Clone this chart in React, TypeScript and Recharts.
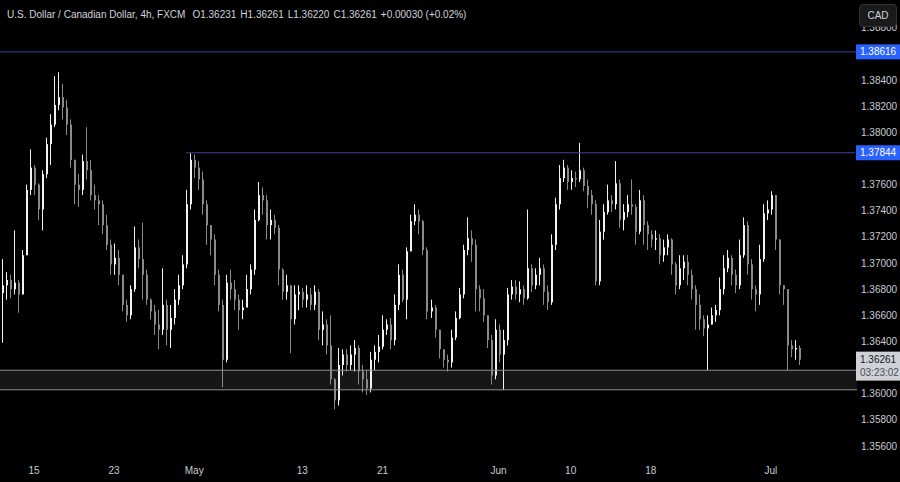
import { ComposedChart, Bar, XAxis, YAxis, ReferenceLine, ReferenceArea } from "recharts";

const CLOSES = [
  1.3683, 1.3687, 1.3680, 1.3685, 1.3676, 1.3706, 1.3756, 1.3773, 1.3760, 1.3741,
  1.3768, 1.3791, 1.3806, 1.3821, 1.3827, 1.3819, 1.3806, 1.3779, 1.3760, 1.3756,
  1.3778, 1.3771, 1.3752, 1.3748, 1.3745, 1.3729, 1.3714, 1.3699, 1.3704, 1.3691,
  1.3668, 1.3660, 1.3680, 1.3712, 1.3703, 1.3691, 1.3672, 1.3663, 1.3653, 1.3649,
  1.3668, 1.3649, 1.3658, 1.3672, 1.3683, 1.3699, 1.3745, 1.3779, 1.3773, 1.3764,
  1.3745, 1.3729, 1.3718, 1.3691, 1.3668, 1.3626, 1.3685, 1.3680, 1.3672, 1.3664,
  1.3666, 1.3680, 1.3695, 1.3733, 1.3752, 1.3748, 1.3729, 1.3733, 1.3727, 1.3695,
  1.3678, 1.3683, 1.3657, 1.3676, 1.3678, 1.3672, 1.3676, 1.3668, 1.3678, 1.3649,
  1.3653, 1.3637, 1.3611, 1.3595, 1.3622, 1.3630, 1.3622, 1.3630, 1.3635, 1.3617,
  1.3611, 1.3604, 1.3626, 1.3632, 1.3636, 1.3649, 1.3653, 1.3641, 1.3668, 1.3691,
  1.3672, 1.3709, 1.3732, 1.3737, 1.3732, 1.3710, 1.3663, 1.3666, 1.3649, 1.3634,
  1.3626, 1.3624, 1.3643, 1.3658, 1.3676, 1.3710, 1.3719, 1.3714, 1.3680, 1.3673,
  1.3660, 1.3641, 1.3614, 1.3649, 1.3630, 1.3641, 1.3676, 1.3682, 1.3676, 1.3680,
  1.3673, 1.3696, 1.3683, 1.3691, 1.3696, 1.3678, 1.3670, 1.3714, 1.3745, 1.3765,
  1.3773, 1.3762, 1.3765, 1.3764, 1.3771, 1.3759, 1.3752, 1.3745, 1.3686, 1.3724,
  1.3739, 1.3748, 1.3745, 1.3761, 1.3733, 1.3739, 1.3745, 1.3743, 1.3724, 1.3748,
  1.3729, 1.3722, 1.3718, 1.3719, 1.3706, 1.3712, 1.3718, 1.3699, 1.3683, 1.3696,
  1.3701, 1.3691, 1.3680, 1.3668, 1.3657, 1.3650, 1.3653, 1.3660, 1.3664, 1.3680,
  1.3696, 1.3704, 1.3691, 1.3683, 1.3706, 1.3729, 1.3699, 1.3680, 1.3676, 1.3703,
  1.3738, 1.3741, 1.3752, 1.3718, 1.3683, 1.3680, 1.3637, 1.3634, 1.3635, 1.36261,
];

const HIGHS = [
  1.3703, 1.3693, 1.3691, 1.3725, 1.3687, 1.3710, 1.3760, 1.3787, 1.3775, 1.3761,
  1.3771, 1.3796, 1.3814, 1.3843, 1.3846, 1.3837, 1.3825, 1.3810, 1.3779, 1.3768,
  1.3783, 1.3804, 1.3779, 1.3760, 1.3752, 1.3748, 1.3737, 1.3718, 1.3715, 1.3710,
  1.3691, 1.3672, 1.3683, 1.3728, 1.3718, 1.3731, 1.3695, 1.3673, 1.3668, 1.3664,
  1.3696, 1.3672, 1.3668, 1.3680, 1.3691, 1.3706, 1.3756, 1.3784, 1.3783, 1.3778,
  1.3770, 1.3748, 1.3729, 1.3722, 1.3695, 1.3672, 1.3691, 1.3695, 1.3687, 1.3676,
  1.3672, 1.3691, 1.3699, 1.3741, 1.3762, 1.3758, 1.3752, 1.3741, 1.3737, 1.3729,
  1.3696, 1.3691, 1.3683, 1.3683, 1.3683, 1.3681, 1.3683, 1.3681, 1.3683, 1.3680,
  1.3663, 1.3657, 1.3660, 1.3612, 1.3635, 1.3634, 1.3634, 1.3637, 1.3641, 1.3637,
  1.3622, 1.3618, 1.3632, 1.3637, 1.3645, 1.3660, 1.3657, 1.3658, 1.3676, 1.3699,
  1.3695, 1.3712, 1.3737, 1.3745, 1.3741, 1.3733, 1.3712, 1.3672, 1.3668, 1.3649,
  1.3634, 1.3630, 1.3649, 1.3663, 1.3681, 1.3714, 1.3735, 1.3725, 1.3718, 1.3683,
  1.3680, 1.3660, 1.3645, 1.3657, 1.3653, 1.3649, 1.3681, 1.3687, 1.3687, 1.3686,
  1.3683, 1.3741, 1.3699, 1.3696, 1.3704, 1.3699, 1.3683, 1.3722, 1.3750, 1.3775,
  1.3779, 1.3775, 1.3771, 1.3770, 1.3792, 1.3773, 1.3764, 1.3756, 1.3748, 1.3733,
  1.3745, 1.3760, 1.3752, 1.3778, 1.3764, 1.3745, 1.3752, 1.3764, 1.3745, 1.3756,
  1.3752, 1.3732, 1.3725, 1.3725, 1.3722, 1.3718, 1.3722, 1.3719, 1.3701, 1.3706,
  1.3706, 1.3706, 1.3695, 1.3683, 1.3676, 1.3660, 1.3660, 1.3666, 1.3668, 1.3689,
  1.3706, 1.3710, 1.3706, 1.3695, 1.3718, 1.3735, 1.3732, 1.3703, 1.3683, 1.3714,
  1.3745, 1.3748, 1.3755, 1.3752, 1.3718, 1.3683, 1.3680, 1.3641, 1.3641, 1.3637,
];

const LOWS = [
  1.3639, 1.3672, 1.3673, 1.3676, 1.3662, 1.3676, 1.3706, 1.3752, 1.3752, 1.3733,
  1.3725, 1.3765, 1.3775, 1.3804, 1.3817, 1.3810, 1.3798, 1.3773, 1.3745, 1.3743,
  1.3752, 1.3764, 1.3748, 1.3741, 1.3729, 1.3722, 1.3710, 1.3691, 1.3691, 1.3683,
  1.3663, 1.3655, 1.3657, 1.3678, 1.3696, 1.3672, 1.3668, 1.3657, 1.3645, 1.3634,
  1.3645, 1.3637, 1.3635, 1.3653, 1.3668, 1.3680, 1.3696, 1.3741, 1.3765, 1.3756,
  1.3737, 1.3714, 1.3706, 1.3683, 1.3663, 1.3605, 1.3624, 1.3672, 1.3664, 1.3649,
  1.3657, 1.3672, 1.3676, 1.3691, 1.3732, 1.3737, 1.3718, 1.3718, 1.3722, 1.3683,
  1.3672, 1.3672, 1.3631, 1.3653, 1.3664, 1.3666, 1.3666, 1.3664, 1.3664, 1.3641,
  1.3637, 1.3630, 1.3607, 1.3588, 1.3591, 1.3614, 1.3617, 1.3618, 1.3617, 1.3607,
  1.3601, 1.3599, 1.3601, 1.3618, 1.3624, 1.3634, 1.3645, 1.3634, 1.3637, 1.3664,
  1.3670, 1.3657, 1.3709, 1.3729, 1.3722, 1.3706, 1.3657, 1.3658, 1.3643, 1.3627,
  1.3620, 1.3617, 1.3620, 1.3641, 1.3657, 1.3673, 1.3706, 1.3701, 1.3663, 1.3663,
  1.3655, 1.3635, 1.3607, 1.3611, 1.3624, 1.3603, 1.3637, 1.3672, 1.3672, 1.3670,
  1.3668, 1.3672, 1.3678, 1.3680, 1.3683, 1.3668, 1.3664, 1.3668, 1.3710, 1.3741,
  1.3762, 1.3756, 1.3756, 1.3758, 1.3762, 1.3755, 1.3742, 1.3737, 1.3683, 1.3683,
  1.3718, 1.3737, 1.3739, 1.3741, 1.3727, 1.3725, 1.3735, 1.3737, 1.3714, 1.3722,
  1.3714, 1.3710, 1.3712, 1.3710, 1.3699, 1.3701, 1.3706, 1.3691, 1.3676, 1.3680,
  1.3687, 1.3683, 1.3672, 1.3649, 1.3649, 1.3644, 1.3618, 1.3653, 1.3655, 1.3660,
  1.3676, 1.3693, 1.3683, 1.3677, 1.3680, 1.3704, 1.3691, 1.3672, 1.3663, 1.3668,
  1.3701, 1.3733, 1.3737, 1.3710, 1.3676, 1.3668, 1.3618, 1.3628, 1.3626, 1.3622,
];

const FIRST_OPEN = 1.3677;
const FUTURE_SLOTS = 14; // empty space right of the last candle

const TICK_IDX = [8, 28, 48, 75, 95, 124, 142, 162, 192];
const TICK_LABELS = ["15", "23", "May", "13", "21", "Jun", "10", "18", "Jul"];

const PRICE_TICKS = [
  1.356, 1.358, 1.36, 1.362, 1.364, 1.366, 1.368, 1.37, 1.372, 1.374, 1.376,
  1.378, 1.38, 1.382, 1.384, 1.386, 1.388,
];
const PRICE_DOMAIN = [1.35493, 1.39013];

const LEVEL_TOP = 1.38616;
const LEVEL_MID = 1.37844;
const LEVEL_MID_START = 46;
const ZONE_TOP = 1.3618;
const ZONE_BOTTOM = 1.3603;
const COUNTDOWN = "03:23:02";
const HEADER_NAME = "U.S. Dollar / Canadian Dollar, 4h, FXCM";
const HEADER_OHLC = ["O1.36231", "H1.36261", "L1.36220", "C1.36261", "+0.00030 (+0.02%)"];

const COLORS = {
  bg: "#000000",
  up: "#f2f2f2",
  down: "#8a8a8a",
  level: "#3b45a0",
  tag: "#2962ff",
  zone: "#161616",
  zoneLine: "#8f8f8f",
  text: "#c9ccd3",
};

const W = 900;
const H = 482;
const AXIS_W = 43;
const FONT = "'Liberation Sans', Arial, sans-serif";

const chartData: any[] = CLOSES.map((c, i) => ({
  i,
  o: i === 0 ? FIRST_OPEN : CLOSES[i - 1], // FX: open ~ previous close
  c,
  h: HIGHS[i],
  l: LOWS[i],
  range: [LOWS[i], HIGHS[i]],
}));
for (let k = 0; k < FUTURE_SLOTS; k++) {
  chartData.push({ i: CLOSES.length + k, range: null });
}

const LAST = CLOSES[CLOSES.length - 1];
// price-axis labels sitting under a tag are covered in the original
const TAGGED = [LEVEL_TOP, LEVEL_MID, LAST];

function Candle(props: any) {
  const { x, y, width, height, payload } = props;
  if (!payload || payload.range == null) return null;
  const { o, c, h, l } = payload;
  const top = Math.min(y, y + height);
  const span = Math.abs(height);
  const pxPer = span / (h - l);
  const yOf = (p: number) => top + (h - p) * pxPer;
  const px = Math.round(x + width / 2);
  const color = c >= o ? COLORS.up : COLORS.down;
  const bTop = yOf(Math.max(o, c));
  const bBot = yOf(Math.min(o, c));
  return (
    <g>
      <line x1={px + 0.5} x2={px + 0.5} y1={top} y2={top + span} stroke={color} strokeWidth={1} />
      <rect x={px} y={bTop} width={2} height={Math.max(1, bBot - bTop)} fill={color} />
    </g>
  );
}

function PriceTick(props: any) {
  const { x, y, payload } = props;
  const v = payload.value as number;
  if (TAGGED.some((t) => Math.abs(t - v) < 0.0009)) return null;
  return (
    <text x={x} y={y + 3.5} fill={COLORS.text} fontSize={10} fontFamily={FONT}>
      {v.toFixed(5)}
    </text>
  );
}

function PriceTag(props: any) {
  const { viewBox, text } = props;
  if (!viewBox) return null;
  const y = viewBox.y;
  return (
    <g>
      <rect x={W - AXIS_W - 1} y={y - 7.5} width={AXIS_W + 1} height={15} fill={COLORS.tag} />
      <text x={W - AXIS_W + 3} y={y + 3.5} fill="#ffffff" fontSize={10} fontFamily={FONT}>
        {text}
      </text>
    </g>
  );
}

function LastTag(props: any) {
  const { viewBox, price } = props;
  if (!viewBox) return null;
  const y = viewBox.y;
  return (
    <g>
      <rect x={W - AXIS_W - 1} y={y - 8} width={AXIS_W + 1} height={29} fill="#cfd1d6" />
      <text x={W - AXIS_W + 3} y={y + 3.5} fill="#131722" fontSize={10} fontFamily={FONT}>
        {price.toFixed(5)}
      </text>
      <text x={W - AXIS_W + 3} y={y + 16} fill="#4a4e58" fontSize={10} fontFamily={FONT}>
        {COUNTDOWN}
      </text>
    </g>
  );
}

export default function App() {
  return (
    <div
      style={{
        position: "fixed",
        left: 0,
        top: 0,
        width: W,
        height: H,
        background: COLORS.bg,
        overflow: "hidden",
      }}
    >
      <ComposedChart
        width={W}
        height={H}
        data={chartData}
        margin={{ top: 0, right: 0, left: 0, bottom: 0 }}
        barCategoryGap={0}
      >
        <XAxis
          dataKey="i"
          type="category"
          ticks={TICK_IDX}
          interval={0}
          axisLine={false}
          tickLine={false}
          tickSize={0}
          tickMargin={7}
          height={22}
          tick={{ fill: COLORS.text, fontSize: 10, fontFamily: FONT }}
          tickFormatter={(v: number) => TICK_LABELS[TICK_IDX.indexOf(v)] ?? ""}
        />
        <YAxis
          orientation="right"
          width={AXIS_W}
          domain={PRICE_DOMAIN}
          allowDataOverflow
          ticks={PRICE_TICKS}
          axisLine={false}
          tickLine={false}
          tickSize={0}
          tickMargin={4}
          tick={<PriceTick />}
        />

        {/* support zone */}
        <ReferenceArea y1={ZONE_BOTTOM} y2={ZONE_TOP} fill={COLORS.zone} fillOpacity={1} stroke="none" />
        <ReferenceLine y={ZONE_TOP} stroke={COLORS.zoneLine} strokeWidth={1} />
        <ReferenceLine y={ZONE_BOTTOM} stroke={COLORS.zoneLine} strokeWidth={1} />

        <Bar dataKey="range" shape={Candle} isAnimationActive={false} />

        {/* resistance levels */}
        <ReferenceLine
          y={LEVEL_TOP}
          stroke={COLORS.level}
          strokeWidth={1}
          label={<PriceTag text={LEVEL_TOP.toFixed(5)} />}
        />
        <ReferenceLine
          segment={[
            { x: LEVEL_MID_START, y: LEVEL_MID },
            { x: chartData.length - 1, y: LEVEL_MID },
          ]}
          stroke={COLORS.level}
          strokeWidth={1}
          label={<PriceTag text={LEVEL_MID.toFixed(5)} />}
        />
        <ReferenceLine y={LAST} stroke="none" strokeOpacity={0} label={<LastTag price={LAST} />} />
      </ComposedChart>

      {/* header */}
      <div
        style={{
          position: "absolute",
          left: 7,
          top: 9,
          fontFamily: FONT,
          fontSize: 10,
          color: "#d1d4dc",
          whiteSpace: "pre",
          display: "flex",
          gap: 4,
        }}
      >
        <span style={{ marginRight: 3 }}>{HEADER_NAME}</span>
        {HEADER_OHLC.map((s) => (
          <span key={s}>{s}</span>
        ))}
      </div>
      <div
        style={{
          position: "absolute",
          left: 859,
          top: 4,
          width: 36,
          height: 21,
          borderRadius: 4,
          background: "#1a1a1a",
          border: "1px solid #333333",
          color: "#d1d4dc",
          fontFamily: FONT,
          fontSize: 10,
          lineHeight: "21px",
          textAlign: "center",
        }}
      >
        CAD
      </div>
    </div>
  );
}
